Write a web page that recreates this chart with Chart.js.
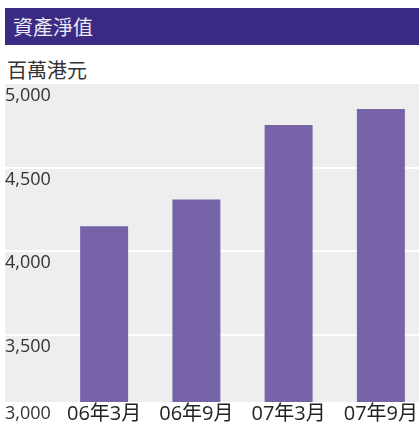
<!DOCTYPE html>
<html>
<head>
<meta charset="utf-8">
<script src="https://cdn.jsdelivr.net/npm/chart.js@4.4.0/dist/chart.umd.min.js"></script>
<style>
  html, body { margin: 0; padding: 0; background: #fff; overflow: hidden; width: 419px; height: 428px; }
  body { position: relative; font-family: "Open Sans", "Noto Sans CJK TC", sans-serif; }
  .title-bar {
    position: absolute; left: 5px; top: 8px; width: 414px; height: 37px;
    background: #3b2a84; color: #ececf4; font-size: 20px; line-height: 37px;
    padding-left: 8px; box-sizing: border-box; font-family: "Noto Sans CJK TC", sans-serif;
  }
  .unit {
    position: absolute; left: 7px; top: 58px; font-size: 20px; line-height: 24px;
    color: #333; font-family: "Noto Sans CJK TC", sans-serif;
  }
  .chart-wrapper { position: absolute; left: 0; top: 84px; width: 432px; height: 344px; }
</style>
</head>
<body>
<div class="title-bar">資產淨值</div>
<div class="unit">百萬港元</div>
<div class="chart-wrapper"><canvas id="myChart" width="432" height="344"></canvas></div>
<script>
const categories = ["06年3月", "06年9月", "07年3月", "07年9月"];
const netAssetValues = [4150, 4310, 4755, 4850];
const yTickValues = [3100, 3500, 4000, 4500, 5000];
const yTickLabels = ["3,000", "3,500", "4,000", "4,500", "5,000"];
const yMin = 3100;
const yMax = 5000;

const fontFamily = '"Open Sans", "Noto Sans CJK TC", sans-serif';

const plotBackground = {
  id: "plotBackground",
  beforeDraw(chart) {
    const { ctx, chartArea, scales } = chart;
    ctx.save();
    ctx.fillStyle = "#eeeeee";
    ctx.fillRect(scales.y.left, chartArea.top, chartArea.right - scales.y.left, chartArea.bottom - chartArea.top);
    ctx.restore();
  },
};

new Chart(document.getElementById("myChart"), {
  type: "bar",
  data: {
    labels: categories,
    datasets: [
      {
        label: "資產淨值",
        data: netAssetValues,
        backgroundColor: "#7663a8",
        barPercentage: 0.52,
        categoryPercentage: 1,
      },
    ],
  },
  options: {
    responsive: false,
    animation: false,
    devicePixelRatio: 1,
    layout: { padding: { left: 5, right: 5, top: 0, bottom: 2 } },
    plugins: {
      legend: { display: false },
      tooltip: { enabled: false },
    },
    scales: {
      x: {
        grid: { display: false, drawTicks: false },
        border: { display: false },
        ticks: {
          color: "#222",
          font: { size: 20, family: fontFamily },
          padding: 0,
          maxRotation: 0,
          autoSkip: false,
        },
      },
      y: {
        min: yMin,
        max: yMax,
        afterBuildTicks: (scale) => {
          scale.ticks = yTickValues.map((v) => ({ value: v }));
        },
        afterFit: (scale) => {
          scale.width = 53;
        },
        grid: {
          color: (ctx) =>
            ctx.index === 0 || ctx.index === yTickValues.length - 1 ? "rgba(0,0,0,0)" : "#ffffff",
          lineWidth: 2,
          drawTicks: true,
          tickLength: 53,
        },
        border: { display: false },
        ticks: {
          align: "start",
          crossAlign: "far",
          padding: 0,
          labelOffset: 3,
          color: "#333",
          font: { size: 18, family: fontFamily },
          callback: (value, index) => yTickLabels[index],
        },
      },
    },
  },
  plugins: [plotBackground],
});
</script>
</body>
</html>
